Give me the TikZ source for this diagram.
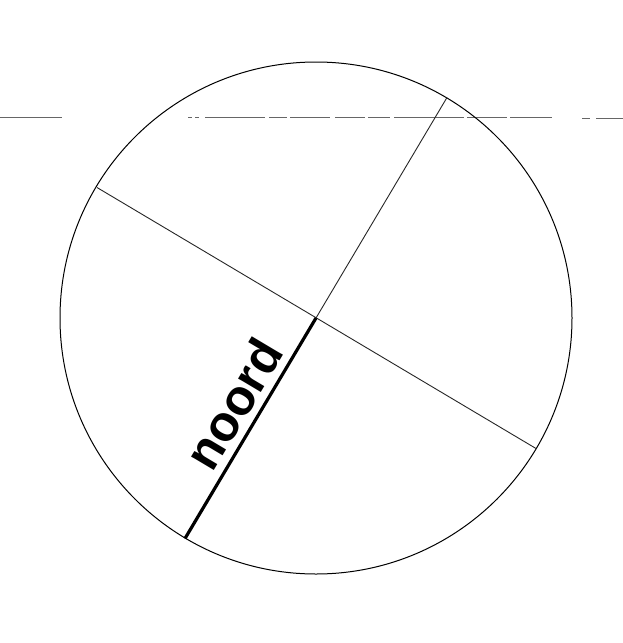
\documentclass[tikz,border=0pt]{standalone}
\usepackage{fontspec}
\setmainfont{Liberation Sans}
\begin{document}
\begin{tikzpicture}[x=1pt,y=-1pt,
  thinline/.style={line width=0.9pt,black!85},
  thickline/.style={line width=3.2pt,black},
  horizon/.style={line width=0.8pt,black!60},
  lbl/.style={font=\fontsize{50}{60}\selectfont\bfseries,inner sep=0pt,anchor=base}]
\useasboundingbox (0,0) rectangle (623,643);
\fill[white] (0,0) rectangle (623,643);
% horizon line (broken, scanned)
\coordinate (h0) at (0,117.5);
\coordinate (h1) at (62,117.5);
\coordinate (h2) at (188,117.5);
\coordinate (h3) at (552,117.5);
\coordinate (h4) at (582,118);
\coordinate (h5) at (623,118);
\draw[horizon] (h0) -- (h1);
\draw[horizon,dash pattern=on 4pt off 3pt on 4pt off 6pt on 60pt off 4pt on 18pt off 3pt on 40pt off 5pt on 30pt off 3pt on 22pt off 4pt on 70pt off 3pt on 40pt off 3pt on 50pt] (h2) -- (h3);
\draw[horizon,dash pattern=on 8pt off 6pt on 30pt] (h4) -- (h5);
% circle and diameters
\coordinate (c) at (316,318);
\node[circle,draw,line width=1pt,minimum size=512pt,inner sep=0pt] (circ) at (c) {};
\coordinate (top) at (447,97.5);
\coordinate (bot) at (185,538.5);
\coordinate (lft) at (97,187.5);
\coordinate (rgt) at (536,448.5);
\draw[thinline] (top) -- (c);
\draw[thinline] (lft) -- (rgt);
\draw[thickline] (c) -- (bot);
\node[lbl,rotate=59.2] (noord) at (249,413) {noord};
\end{tikzpicture}
\end{document}
